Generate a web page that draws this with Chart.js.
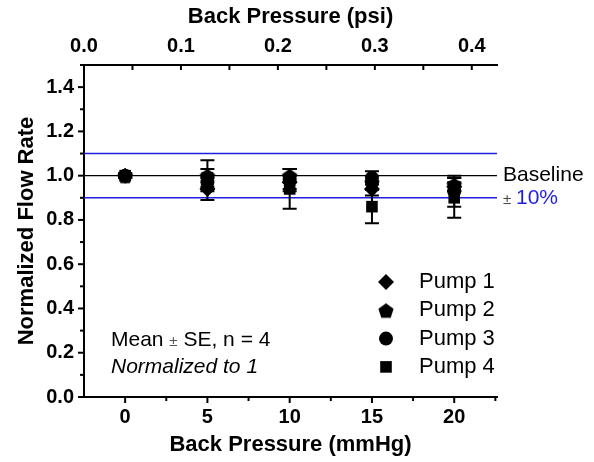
<!DOCTYPE html>
<html>
<head>
<meta charset="utf-8">
<script src="https://cdn.jsdelivr.net/npm/chart.js@4.4.0/dist/chart.umd.min.js"></script>
<style>
  html, body { margin: 0; padding: 0; background: #fff; }
  #wrap { width: 594px; height: 462px; }
</style>
</head>
<body>
<div id="wrap"><canvas id="chart" width="594" height="462"></canvas></div>
<script>
// back pressure in mmHg
const pressures = [0, 5, 10, 15, 20]

const pump1 = [1.00, 0.94, 0.97, 0.94, 0.95]
const pump1Err = [0.01, 0.05, 0.03, 0.03, 0.02]
const pump2 = [1.00, 1.00, 1.00, 0.97, 0.96]
const pump2Err = [0.01, 0.07, 0.03, 0.03, 0.03]
const pump3 = [1.00, 0.97, 0.98, 0.99, 0.93]
const pump3Err = [0.01, 0.03, 0.05, 0.03, 0.07]
const pump4 = [1.00, 0.99, 0.94, 0.86, 0.90]
const pump4Err = [0.01, 0.04, 0.09, 0.075, 0.09]

const pumpNames = ['Pump 1', 'Pump 2', 'Pump 3', 'Pump 4']

const baseline = 1.0
const band = [0.9, 1.1]

const FONT = "'Liberation Sans', Arial, sans-serif"
const BLUE = '#1f1fe0'

function makePentagon(r) {
  const s = Math.ceil(r * 2 + 2)
  const c = document.createElement('canvas')
  c.width = s; c.height = s
  const g = c.getContext('2d')
  g.fillStyle = '#000'
  g.beginPath()
  for (let i = 0; i < 5; i++) {
    const a = -Math.PI / 2 + i * 2 * Math.PI / 5
    const px = s / 2 + r * Math.cos(a), py = s / 2 + 1 + r * Math.sin(a)
    i ? g.lineTo(px, py) : g.moveTo(px, py)
  }
  g.closePath()
  g.fill()
  return c
}
const pentagon = makePentagon(8)

const styles = [
  { pointStyle: 'rectRot', radius: 8 },
  { pointStyle: pentagon, radius: 8 },
  { pointStyle: 'circle', radius: 7 },
  { pointStyle: 'rect', radius: 8.2 },
]
const values = [pump1, pump2, pump3, pump4]
const errors = [pump1Err, pump2Err, pump3Err, pump4Err]

const datasets = values.map((vals, i) => ({
  label: pumpNames[i],
  data: pressures.map((x, j) => ({ x: x, y: vals[j] })),
  errors: errors[i],
  pointStyle: styles[i].pointStyle,
  pointRadius: styles[i].radius,
  backgroundColor: '#000',
  borderColor: '#000',
  borderWidth: 0,
  showLine: false,
  xAxisID: 'x',
  yAxisID: 'y',
}))

const decor = {
  id: 'decor',
  beforeDatasetsDraw(chart) {
    const { ctx, chartArea: a, scales } = chart
    const y = scales.y
    ctx.save()
    // reference lines
    ctx.lineWidth = 1.4
    ctx.strokeStyle = '#000'
    ctx.beginPath()
    ctx.moveTo(a.left, y.getPixelForValue(baseline))
    ctx.lineTo(a.right, y.getPixelForValue(baseline))
    ctx.stroke()
    ctx.strokeStyle = BLUE
    ctx.lineWidth = 1.6
    band.forEach(v => {
      ctx.beginPath()
      ctx.moveTo(a.left, y.getPixelForValue(v))
      ctx.lineTo(a.right, y.getPixelForValue(v))
      ctx.stroke()
    })
    // error bars
    ctx.strokeStyle = '#000'
    ctx.lineWidth = 2
    chart.data.datasets.forEach(ds => {
      ds.data.forEach((p, j) => {
        const e = ds.errors[j]
        const px = scales.x.getPixelForValue(p.x)
        const hi = y.getPixelForValue(p.y + e), lo = y.getPixelForValue(p.y - e)
        ctx.beginPath()
        ctx.moveTo(px, hi); ctx.lineTo(px, lo)
        ctx.moveTo(px - 7, hi); ctx.lineTo(px + 7, hi)
        ctx.moveTo(px - 7, lo); ctx.lineTo(px + 7, lo)
        ctx.stroke()
      })
    })
    ctx.restore()
  },
  afterDraw(chart) {
    const { ctx, chartArea: a, scales } = chart
    ctx.save()
    ctx.strokeStyle = '#000'
    ctx.lineWidth = 2
    // ticks: bottom (outward), left (outward), top (inward)
    const x = scales.x, y = scales.y, x2 = scales.x2
    for (let v = 0; v <= x.max + 1e-9; v += 2.5) {
      const px = x.getPixelForValue(v)
      const len = (Math.round(v * 2) % 10 === 0) ? 6 : 4
      ctx.beginPath(); ctx.moveTo(px, a.bottom); ctx.lineTo(px, a.bottom + len); ctx.stroke()
    }
    for (let k = 0; k <= 15; k++) {
      const py = y.getPixelForValue(k / 10)
      const len = k % 2 === 0 ? 6 : 4
      ctx.beginPath(); ctx.moveTo(a.left, py); ctx.lineTo(a.left - len, py); ctx.stroke()
    }
    for (let k = 0; k * 0.05 <= x2.max + 1e-9; k++) {
      const px = x2.getPixelForValue(k * 0.05)
      ctx.beginPath(); ctx.moveTo(px, a.top); ctx.lineTo(px, a.top + 5); ctx.stroke()
    }

    // line labels on the right
    ctx.textBaseline = 'middle'
    ctx.textAlign = 'left'
    ctx.fillStyle = '#000'
    ctx.font = '21px ' + FONT
    ctx.fillText('Baseline', a.right + 6, y.getPixelForValue(baseline))
    ctx.fillStyle = '#444'
    ctx.font = '15px ' + FONT
    ctx.fillText('\u00b1', a.right + 6, y.getPixelForValue(band[0]) + 2)
    ctx.fillStyle = BLUE
    ctx.font = '21px ' + FONT
    ctx.fillText('10%', a.right + 19, y.getPixelForValue(band[0]))

    // legend
    ctx.fillStyle = '#000'
    chart.data.datasets.forEach((ds, i) => {
      const ly = 282 + i * 28.3
      Chart.helpers.drawPoint(ctx, {
        pointStyle: ds.pointStyle, radius: ds.pointRadius, rotation: 0, borderWidth: 0
      }, 386, ly)
      ctx.fillStyle = '#000'
      ctx.font = '22px ' + FONT
      ctx.fillText(ds.label, 419, ly)
    })

    // note
    ctx.font = '21px ' + FONT
    let tx = 111
    ctx.fillText('Mean ', tx, 340); tx += ctx.measureText('Mean ').width
    ctx.fillStyle = '#555'
    ctx.font = '15px ' + FONT
    ctx.fillText('\u00b1', tx, 342); tx += ctx.measureText('\u00b1').width
    ctx.fillStyle = '#000'
    ctx.font = '21px ' + FONT
    ctx.fillText(' SE, n = 4', tx, 340)
    ctx.font = 'italic 21px ' + FONT
    ctx.fillText('Normalized to 1', 111, 367)
    ctx.restore()
  }
}

const tickFont = { family: FONT, size: 20, weight: 'bold' }
const titleFont = { family: FONT, size: 22, weight: 'bold' }

new Chart(document.getElementById('chart'), {
  type: 'scatter',
  data: { datasets: datasets },
  options: {
    responsive: false,
    animation: false,
    layout: { padding: { left: 0, right: 97, top: 0, bottom: 0 } },
    plugins: { legend: { display: false }, tooltip: { enabled: false } },
    scales: {
      x: {
        type: 'linear',
        position: 'bottom',
        min: -2.5,
        max: 22.6,
        grid: { display: false, drawTicks: false },
        border: { display: true, color: '#000', width: 2 },
        ticks: { stepSize: 5, includeBounds: false, color: '#000', font: tickFont, padding: 8 },
        title: { display: true, text: 'Back Pressure (mmHg)', color: '#000', font: titleFont, padding: 4 },
        afterFit: s => { s.height = 65 }
      },
      x2: {
        type: 'linear',
        position: 'top',
        min: 0,
        max: 0.426,
        grid: { display: false, drawTicks: false },
        border: { display: true, color: '#000', width: 2 },
        ticks: {
          stepSize: 0.1, includeBounds: false, color: '#000', font: tickFont, padding: 7,
          callback: v => v.toFixed(1)
        },
        title: { display: true, text: 'Back Pressure (psi)', color: '#000', font: titleFont, padding: 4 },
        afterFit: s => { s.height = 65 }
      },
      y: {
        type: 'linear',
        min: 0,
        max: 1.5,
        grid: { display: false, drawTicks: false },
        border: { display: true, color: '#000', width: 2 },
        ticks: {
          stepSize: 0.2, includeBounds: false, color: '#000', font: tickFont, padding: 10,
          callback: v => v.toFixed(1)
        },
        title: { display: true, text: 'Normalized Flow Rate', color: '#000', font: titleFont, padding: 14 },
        afterFit: s => { s.width = 84 }
      }
    }
  },
  plugins: [decor]
})
</script>
</body>
</html>
